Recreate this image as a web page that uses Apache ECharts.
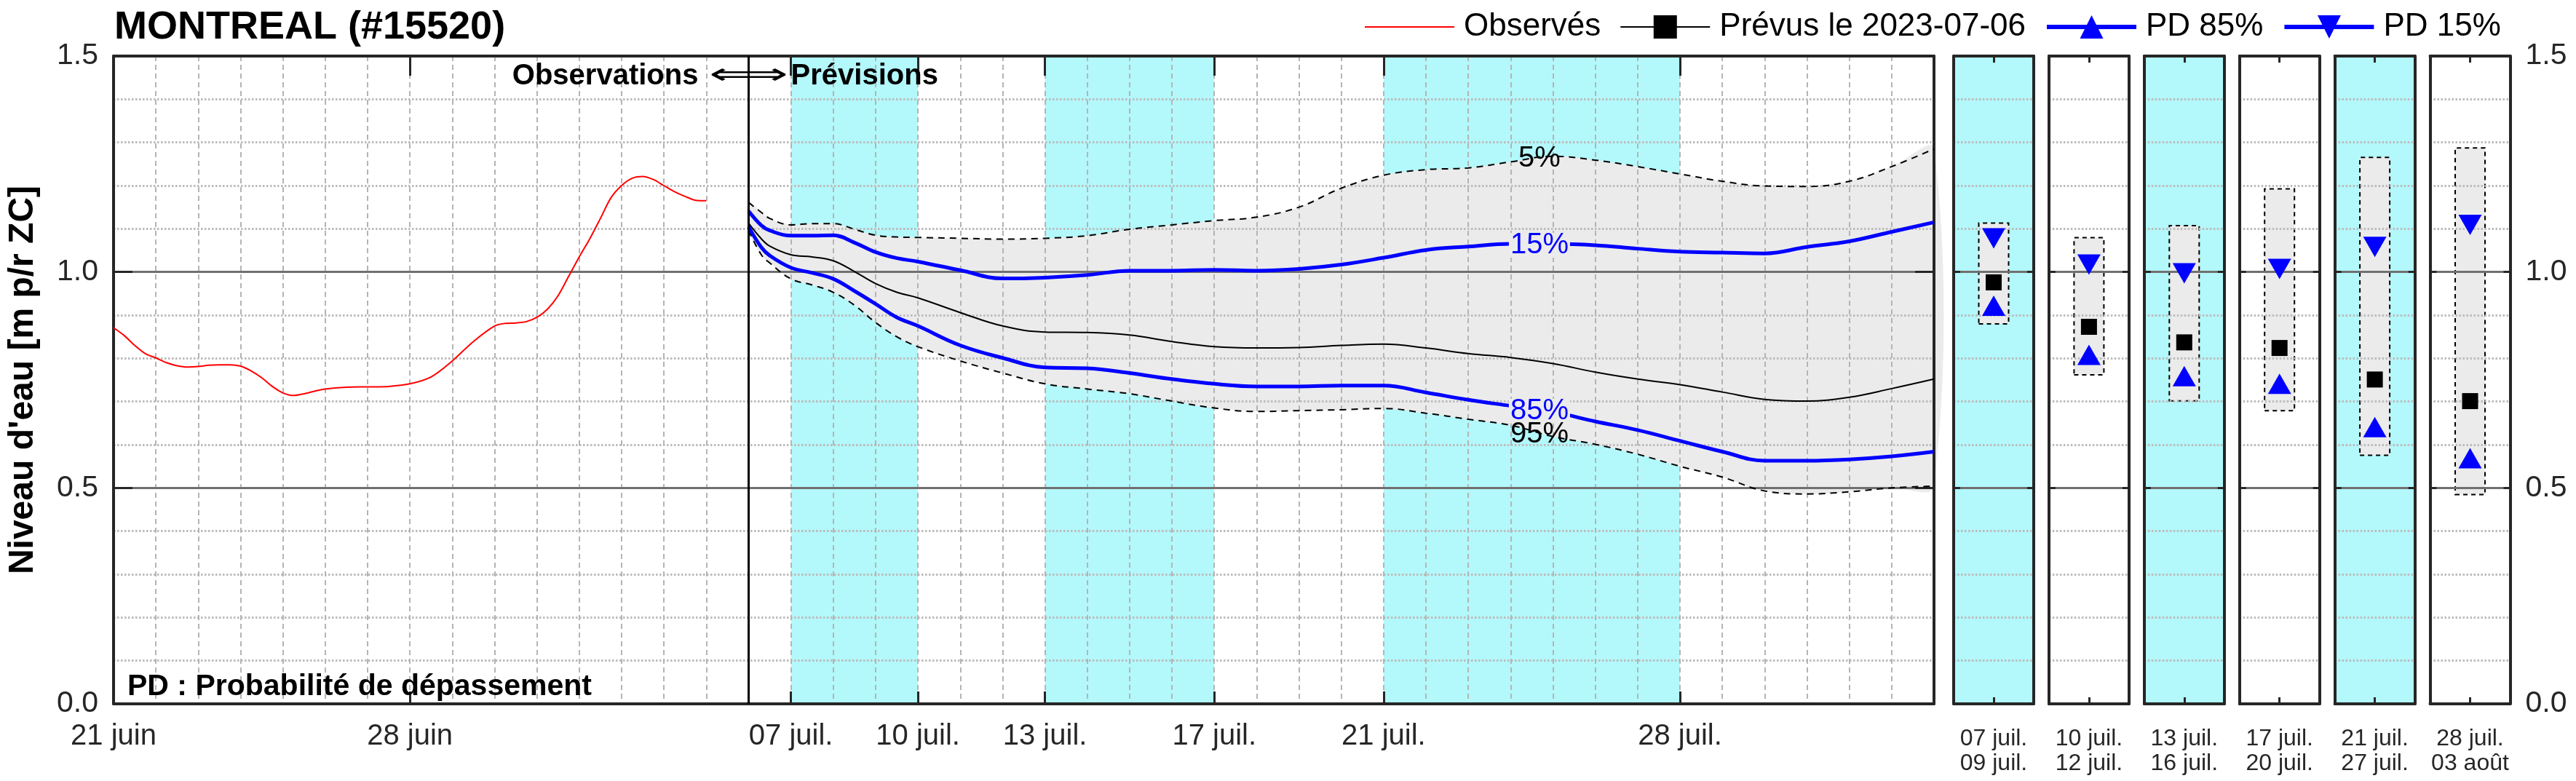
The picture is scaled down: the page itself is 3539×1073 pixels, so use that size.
<!DOCTYPE html>
<html><head><meta charset="utf-8">
<script src="https://cdn.jsdelivr.net/npm/echarts@6/dist/echarts.min.js"></script>
<style>html,body{margin:0;padding:0;background:#fff}#c{width:3539px;height:1073px}</style>
</head><body><div id="c"></div>
<script>
// ---------------- DATA ----------------
// x = days since 21 juin 2023
const xMin = 0, xMax = 43;                 // 21 juin -> 03 août
const forecastStart = 15;                  // 06 juil.
const majorDays   = [0, 7, 16, 19, 22, 26, 30, 37];
const majorLabels = ['21 juin','28 juin','07 juil.','10 juil.','13 juil.','17 juil.','21 juil.','28 juil.'];
const bandRanges  = [[16,19],[22,26],[30,37]];

const obsDays = [0,0.25,0.5,0.75,1,1.25,1.5,1.75,2,2.25,2.5,2.75,3,3.25,3.5,3.75,4,4.25,4.5,4.75,5,5.5,6,6.5,7,7.5,8,8.5,9,9.25,9.5,9.75,10,10.25,10.5,10.75,11,11.25,11.5,11.75,12,12.25,12.5,12.75,13,13.25,13.5,13.75,14];
const obsValues = [0.871,0.853,0.830,0.811,0.801,0.790,0.783,0.780,0.781,0.784,0.785,0.785,0.782,0.771,0.755,0.735,0.720,0.714,0.718,0.724,0.729,0.733,0.734,0.735,0.741,0.757,0.794,0.839,0.875,0.881,0.882,0.885,0.895,0.914,0.945,0.990,1.035,1.077,1.124,1.172,1.200,1.217,1.221,1.214,1.200,1.186,1.175,1.166,1.165];

const fcDays = [15,15.3,15.5,16,16.5,17,17.5,18,18.5,19,20,21,22,23,24,25,26,27,28,29,30,31,32,33,34,35,36,37,38,39,40,41,42,43];
const p05 = [1.161,1.138,1.124,1.109,1.112,1.112,1.099,1.085,1.081,1.080,1.078,1.076,1.078,1.084,1.099,1.109,1.119,1.127,1.150,1.194,1.224,1.237,1.241,1.255,1.268,1.259,1.244,1.227,1.210,1.199,1.198,1.210,1.244,1.285];
const p15 = [1.141,1.108,1.096,1.084,1.084,1.085,1.068,1.046,1.032,1.024,1.004,0.985,0.987,0.993,1.003,1.003,1.005,1.003,1.007,1.017,1.033,1.051,1.059,1.065,1.065,1.062,1.054,1.047,1.045,1.043,1.058,1.071,1.093,1.115];
const p50 = [1.113,1.077,1.060,1.040,1.035,1.026,1.001,0.973,0.953,0.940,0.906,0.875,0.861,0.860,0.854,0.839,0.827,0.824,0.825,0.830,0.833,0.824,0.811,0.802,0.788,0.768,0.752,0.739,0.722,0.705,0.701,0.710,0.730,0.752];
const p85 = [1.105,1.057,1.038,1.010,0.998,0.984,0.956,0.926,0.895,0.875,0.830,0.801,0.779,0.777,0.766,0.752,0.741,0.735,0.735,0.737,0.737,0.721,0.704,0.690,0.676,0.654,0.634,0.609,0.584,0.563,0.563,0.566,0.573,0.584];
const p95 = [1.096,1.040,1.021,0.984,0.970,0.953,0.923,0.883,0.850,0.827,0.794,0.766,0.741,0.729,0.718,0.701,0.685,0.677,0.679,0.681,0.684,0.673,0.659,0.645,0.619,0.601,0.578,0.550,0.525,0.493,0.486,0.491,0.500,0.504];

const pctLabels   = ['5%','15%','85%','95%'];
const pctLabelPos = [[33.68,1.262],[33.68,1.062],[33.68,0.678],[33.68,0.624]];

const panelLabels = ['07 juil.\n09 juil.','10 juil.\n12 juil.','13 juil.\n16 juil.','17 juil.\n20 juil.','21 juil.\n27 juil.','28 juil.\n03 août'];
const panelShaded = [true,false,true,false,true,false];
const panelP05 = [1.115,1.081,1.109,1.194,1.267,1.289];
const panelP95 = [0.878,0.760,0.700,0.677,0.574,0.483];
const panelP15 = [1.078,1.017,0.997,1.007,1.058,1.109];
const panelP50 = [0.976,0.873,0.837,0.824,0.751,0.701];
const panelP85 = [0.922,0.808,0.759,0.741,0.641,0.569];

// ---------------- STYLE ----------------
const FONT = '"Liberation Sans", Arial, Helvetica, sans-serif';
const CYAN = '#b3f8fb';
const GRAYFILL = '#ebebeb';
const AXC = '#262626';
const BLUE = '#0000ff';
const dotted = {color:'#bcbcbc', width:3, type:[2.5,2.5]};
const dashedV = {color:'#b4b4b4', width:2, type:[7,5]};
const solidH = {color:'#707070', width:3};

const chart = echarts.init(document.getElementById('c'), null, {renderer:'canvas', width:3539, height:1073});

const grids = [{left:151, top:77, width:2506, height:890}];
const xAxes = [], yAxes = [], series = [];

// main axes
xAxes.push({gridIndex:0, type:'value', min:xMin, max:xMax, position:'bottom', z:3.5,
  axisLine:{show:true, onZero:false, lineStyle:{color:AXC, width:4}},
  axisTick:{show:true, inside:true, length:17, customValues:majorDays, lineStyle:{color:AXC, width:3}},
  axisLabel:{show:true, customValues:majorDays, margin:25, fontSize:40, fontFamily:FONT, color:AXC,
    formatter:v => { const i = majorDays.indexOf(Math.round(v)); return i >= 0 ? majorLabels[i] : ''; }},
  splitLine:{show:false}});
xAxes.push({gridIndex:0, type:'value', min:xMin, max:xMax, position:'top', z:3.5,
  axisLine:{show:true, onZero:false, lineStyle:{color:AXC, width:4}},
  axisTick:{show:true, inside:true, length:27, customValues:majorDays, lineStyle:{color:AXC, width:3}},
  axisLabel:{show:false}, splitLine:{show:false}});
xAxes.push({gridIndex:0, type:'value', min:xMin, max:xMax, interval:1, z:3,
  axisLine:{show:false}, axisTick:{show:false}, axisLabel:{show:false},
  splitLine:{show:true, lineStyle:dashedV}});

yAxes.push({gridIndex:0, type:'value', min:0, max:1.5, interval:0.5, position:'left', z:3.5,
  name:"Niveau d'eau [m p/r ZC]", nameLocation:'middle', nameGap:100,
  nameTextStyle:{fontSize:48, fontWeight:'bold', color:'#000', fontFamily:FONT},
  axisLine:{show:true, onZero:false, lineStyle:{color:AXC, width:4}},
  axisTick:{show:true, inside:true, length:26, lineStyle:{color:AXC, width:3}},
  axisLabel:{show:true, margin:21, fontSize:41, fontFamily:FONT, color:AXC, formatter:v => v.toFixed(1)},
  splitLine:{show:true, lineStyle:solidH}});
yAxes.push({gridIndex:0, type:'value', min:0, max:1.5, interval:0.5, position:'right', z:3.5,
  axisLine:{show:true, onZero:false, lineStyle:{color:AXC, width:4}},
  axisTick:{show:true, inside:true, length:26, lineStyle:{color:AXC, width:3}},
  axisLabel:{show:false}, splitLine:{show:false}});
yAxes.push({gridIndex:0, type:'value', min:0, max:1.5, interval:0.1, position:'left', z:3,
  axisLine:{show:false}, axisTick:{show:false}, axisLabel:{show:false},
  splitLine:{show:true, lineStyle:dotted}});

const pair = (xs, ys) => xs.map((x, i) => [x, ys[i]]);

// cyan bands
series.push({type:'line', xAxisIndex:0, yAxisIndex:0, data:pair(obsDays, obsValues), symbol:'none', silent:true,
  lineStyle:{opacity:0}, z:1,
  markArea:{silent:true, itemStyle:{color:CYAN}, data:bandRanges.map(r => [{xAxis:r[0]},{xAxis:r[1]}])}});
// gray band 5%-95% drawn as one polygon through the axes' scales
series.push({type:'custom', xAxisIndex:0, yAxisIndex:0, silent:true, z:2,
  data:fcDays.map((d,i) => [d, p05[i], p95[i]]), encode:{x:0, y:[1,2]},
  renderItem:(params, api) => {
    if (params.dataIndex !== 0) return null;
    const up = fcDays.map((d,i) => api.coord([d, p05[i]]));
    const lo = fcDays.map((d,i) => api.coord([d, p95[i]])).reverse();
    return {type:'polygon', shape:{points:up.concat(lo), smooth:0.35}, style:{fill:GRAYFILL}};
  }});

const pctMark = (i, color, bg) => ({symbol:'rect', symbolSize:[84,34], silent:true,
  itemStyle:{color:bg}, label:{show:true, position:'inside', formatter:pctLabels[i], color:color, fontSize:40, fontFamily:FONT},
  data:[{coord:pctLabelPos[i]}]});

series.push({name:'Observés', type:'line', xAxisIndex:0, yAxisIndex:0, data:pair(obsDays, obsValues), symbol:'none', smooth:0.3,
  lineStyle:{color:'#ff0000', width:2}, itemStyle:{color:'#ff0000'}, z:4,
  markLine:{silent:true, symbol:'none', label:{show:false}, lineStyle:{color:'#000', width:3, type:'solid'},
    data:[{xAxis:forecastStart}]}});
series.push({type:'line', xAxisIndex:0, yAxisIndex:0, data:pair(fcDays, p05), symbol:'none', smooth:0.4,
  lineStyle:{color:'#000', width:2, type:[9,7]}, z:4, markPoint:pctMark(0,'#000','rgba(0,0,0,0)')});
series.push({type:'line', xAxisIndex:0, yAxisIndex:0, data:pair(fcDays, p95), symbol:'none', smooth:0.4,
  lineStyle:{color:'#000', width:2, type:[9,7]}, z:4, markPoint:pctMark(3,'#000','rgba(0,0,0,0)')});
series.push({name:'Prévus le 2023-07-06', type:'line', xAxisIndex:0, yAxisIndex:0, data:pair(fcDays, p50), symbol:'rect', showSymbol:false, smooth:0.4,
  lineStyle:{color:'#000', width:2}, itemStyle:{color:'#000'}, z:4});
series.push({name:'PD 85%', type:'line', xAxisIndex:0, yAxisIndex:0, data:pair(fcDays, p85), symbol:'triangle', showSymbol:false, smooth:0.4,
  lineStyle:{color:BLUE, width:5}, itemStyle:{color:BLUE}, z:4, markPoint:pctMark(2,BLUE,GRAYFILL)});
series.push({name:'PD 15%', type:'line', xAxisIndex:0, yAxisIndex:0, data:pair(fcDays, p15), symbol:'triangle', symbolRotate:180, showSymbol:false, smooth:0.4,
  lineStyle:{color:BLUE, width:5}, itemStyle:{color:BLUE}, z:4, markPoint:pctMark(1,BLUE,GRAYFILL)});

// panels
for (let i = 0; i < panelLabels.length; i++) {
  const g = grids.length;
  grids.push({left:2684 + 130.9*i, top:77, width:110, height:890, show:true, borderWidth:0,
    backgroundColor: panelShaded[i] ? CYAN : '#ffffff'});
  const xb = xAxes.length;
  xAxes.push({gridIndex:g, type:'category', data:[panelLabels[i]], position:'bottom', z:3.5,
    axisLine:{show:true, onZero:false, lineStyle:{color:AXC, width:4}},
    axisTick:{show:true, inside:true, alignWithLabel:true, length:9, lineStyle:{color:AXC, width:3}},
    axisLabel:{show:true, interval:0, margin:31, fontSize:32, lineHeight:34, fontFamily:FONT, color:AXC},
    splitLine:{show:false}});
  xAxes.push({gridIndex:g, type:'category', data:[panelLabels[i]], position:'top', z:3.5,
    axisLine:{show:true, onZero:false, lineStyle:{color:AXC, width:4}},
    axisTick:{show:true, inside:true, alignWithLabel:true, length:9, lineStyle:{color:AXC, width:3}},
    axisLabel:{show:false}, splitLine:{show:false}});
  const yl = yAxes.length;
  yAxes.push({gridIndex:g, type:'value', min:0, max:1.5, interval:0.5, position:'left', z:3.5,
    axisLine:{show:true, onZero:false, lineStyle:{color:AXC, width:4}},
    axisTick:{show:true, inside:true, length:9, lineStyle:{color:AXC, width:3}},
    axisLabel:{show:false}, splitLine:{show:true, lineStyle:solidH}});
  yAxes.push({gridIndex:g, type:'value', min:0, max:1.5, interval:0.5, position:'right', z:3.5,
    axisLine:{show:true, onZero:false, lineStyle:{color:AXC, width:4}},
    axisTick:{show:true, inside:true, length:9, lineStyle:{color:AXC, width:3}},
    axisLabel:{show: i === panelLabels.length-1, margin:21, fontSize:41, fontFamily:FONT, color:AXC, formatter:v => v.toFixed(1)},
    splitLine:{show:false}});
  yAxes.push({gridIndex:g, type:'value', min:0, max:1.5, interval:0.1, position:'left', z:3,
    axisLine:{show:false}, axisTick:{show:false}, axisLabel:{show:false},
    splitLine:{show:true, lineStyle:dotted}});
  const common = {xAxisIndex:xb, yAxisIndex:yl, silent:true};
  series.push(Object.assign({type:'bar', stack:'p'+i, barWidth:43, data:[panelP95[i]], itemStyle:{color:'rgba(0,0,0,0)'}, z:2}, common));
  series.push(Object.assign({type:'bar', stack:'p'+i, barWidth:43, data:[panelP05[i]-panelP95[i]],
    itemStyle:{color:GRAYFILL, borderColor:'#000', borderWidth:2, borderType:[6,5]}, z:2}, common));
  series.push(Object.assign({name:'p15 période', type:'scatter', data:[[0, panelP15[i]]], symbol:'triangle', symbolRotate:180, symbolSize:[32,28], itemStyle:{color:BLUE, opacity:1}, z:5}, common));
  series.push(Object.assign({name:'p50 période', type:'scatter', data:[[0, panelP50[i]]], symbol:'rect', symbolSize:[22,22], itemStyle:{color:'#000', opacity:1}, z:5}, common));
  series.push(Object.assign({name:'p85 période', type:'scatter', data:[[0, panelP85[i]]], symbol:'triangle', symbolSize:[32,28], itemStyle:{color:BLUE, opacity:1}, z:5}, common));
}

const option = {
  animation:false,
  backgroundColor:'#ffffff',
  textStyle:{fontFamily:FONT},
  title:{text:'MONTREAL (#15520)', left:152, top:6, textStyle:{fontSize:54, fontWeight:'bold', color:'#000', fontFamily:FONT}},
  legend:{left:1869, top:10, itemWidth:123, itemHeight:40, itemGap:26, selectedMode:false,
    textStyle:{fontSize:44, color:'#000', fontFamily:FONT, padding:[0,0,0,8]},
    data:[{name:'Observés', itemStyle:{opacity:0}, lineStyle:{width:2}},
          {name:'Prévus le 2023-07-06', lineStyle:{width:2}},
          {name:'PD 85%', lineStyle:{width:6}},
          {name:'PD 15%', lineStyle:{width:6}}]},
  grid:grids, xAxis:xAxes, yAxis:yAxes, series:series
};
chart.setOption(option);

// text annotations anchored on the forecast start
const pTop = chart.convertToPixel({xAxisIndex:0, yAxisIndex:0}, [forecastStart, 1.5]);
const pNext = chart.convertToPixel({xAxisIndex:0, yAxisIndex:0}, [forecastStart + 1, 1.5]);
const yTxt = pTop[1] + 28;
chart.setOption({graphic:[
  {type:'text', x:pTop[0] - 69, y:yTxt, z:10, style:{text:'Observations', font:'bold 40px ' + FONT, textAlign:'right', textVerticalAlign:'middle', fill:'#000'}},
  {type:'text', x:pTop[0], y:yTxt, z:10, scaleX:1.9, style:{text:'⟺', font:'40px "DejaVu Sans"', textAlign:'center', textVerticalAlign:'middle', fill:'#000'}},
  {type:'text', x:pNext[0], y:yTxt, z:10, style:{text:'Prévisions', font:'bold 40px ' + FONT, textAlign:'left', textVerticalAlign:'middle', fill:'#000'}},
  {type:'text', x:175, y:944, z:10, style:{text:'PD : Probabilité de dépassement', font:'bold 41px ' + FONT, textAlign:'left', textVerticalAlign:'middle', fill:'#000'}}
]});
</script>
</body></html>
